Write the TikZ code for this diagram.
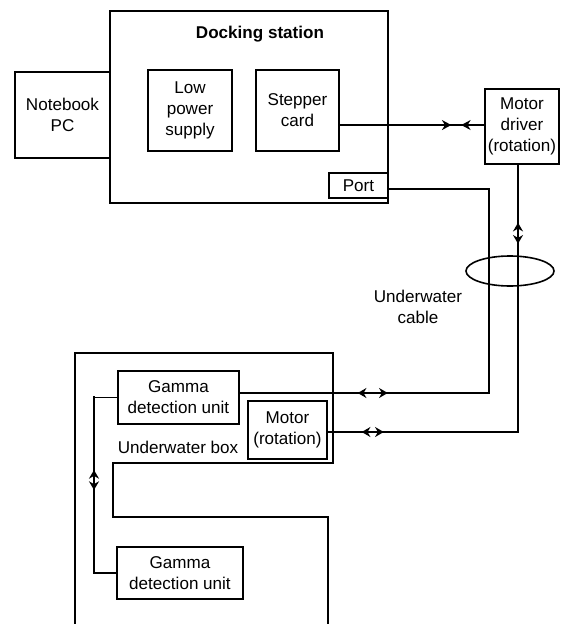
\documentclass[tikz,border=0pt]{standalone}
\usepackage{fontspec}
\setmainfont{Liberation Sans}
\usetikzlibrary{shapes,arrows,arrows.meta,positioning,calc}
\tikzset{%
	boxnode/.style={rectangle, draw=black, line width=1.1pt, align=center, inner sep=1pt, font=\fontsize{12.8}{15.6}\selectfont},
	lbl/.style={align=center, font=\fontsize{12.8}{15.6}\selectfont},
	ln/.style={draw=black, line width=1.2pt},
	fwd/.style={draw=black, line width=2.2pt, -{Stealth[length=7pt, width=7.5pt]}},
	bidir/.style={draw=black, line width=2.2pt, {Stealth[length=6.5pt, width=7.5pt]}-{Stealth[length=6.5pt, width=7.5pt]}}
}

\begin{document}
\begin{tikzpicture}[x=0.75pt, y=-0.75pt]
		\useasboundingbox (0,0) rectangle (560,624);
		
		\node[boxnode, minimum width=208.5pt, minimum height=144pt] (dock) at (249,107) {};
		\node[lbl, font=\fontsize{12.8}{15.6}\selectfont\bfseries] (docktitle) at (260,34) {Docking station};
		\node[boxnode, minimum width=71.25pt, minimum height=64.5pt] (pc) at (62.5,115) {Notebook\\PC};
		\node[boxnode, minimum width=63pt, minimum height=60.75pt] (power) at (190,110.5) {Low\\power\\supply};
		\node[boxnode, minimum width=62.25pt, minimum height=60.75pt] (stepper) at (297.5,110.5) {Stepper\\card};
		\node[boxnode, minimum width=44.25pt, minimum height=18.75pt] (port) at (358.5,185.5) {Port};
		\node[boxnode, minimum width=55.5pt, minimum height=56.25pt] (driver) at (522,126.5) {Motor\\driver\\(rotation)};
		
		\node[boxnode, minimum width=90.75pt, minimum height=39.75pt] (gamma1) at (178.5,397.5) {Gamma\\detection unit};
		\node[boxnode, minimum width=59.25pt, minimum height=43.5pt] (motor) at (287.5,430) {Motor\\(rotation)};
		\node[boxnode, minimum width=94.5pt, minimum height=39pt] (gamma2) at (180,573) {Gamma\\detection unit};
		\node[lbl] (boxlabel) at (178,447) {Underwater box};
		\node[lbl] (cablelabel) at (418,307) {Underwater\\cable};
		
		% underwater box outline
		\draw[ln] (75,624) -- (75,353) -- (333,353) -- (333,463) -- (113,463) -- (113,517) -- (328,517) -- (328,624);
		
		\coordinate (drvin) at ([yshift=1.1pt]driver.west);
		\coordinate (cab1) at (489,393);
		\coordinate (cab2) at (518,432);
		\coordinate (gl) at (94,396);
		
		% connections
		\draw[ln] (stepper.east |- drvin) -- (drvin);
		\draw[ln] ([yshift=-2.6pt]port.east) -| (cab1) -- (cab1 -| gamma1.east);
		\draw[ln] (driver.south -| cab2) -- (cab2) -- (cab2 -| motor.east);
		\draw[ln] (gamma1.west) -| (gl) |- (gamma2.west);
		\draw[ln] (510,271) ellipse [x radius=44, y radius=15];
		
		% arrow marks
		\draw[fwd] ($(drvin)+(-63,0)$) -- +(30,0);
		\draw[fwd] (drvin) -- +(-23,0);
		\draw[bidir] ($(driver.south -| cab2)+(0,58)$) -- +(0,21);
		\draw[bidir] ($(cab1 -| gamma1.east)+(118,0)$) -- +(30,0);
		\draw[bidir] ($(cab2 -| motor.east)+(34,0)$) -- +(22,0);
		\draw[bidir] ($(gl)+(0,74)$) -- +(0,20);
	\end{tikzpicture}
\end{document}
